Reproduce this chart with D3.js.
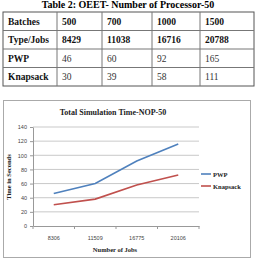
<!DOCTYPE html>
<html>
<head>
<meta charset="utf-8">
<script src="https://cdn.jsdelivr.net/npm/d3@7"></script>
<style>
  body { margin: 0; background: #fff; }
  svg { display: block; font-family: "Liberation Serif", "Times New Roman", serif; }
</style>
</head>
<body>
<script>
// table data
const batches = ["500", "700", "1000", "1500"];
const typeJobs = ["8429", "11038", "16716", "20788"];
const pwpTable = ["46", "60", "92", "165"];
const knapTable = ["30", "39", "58", "111"];

// chart data
const jobs = ["8306", "11509", "16775", "20106"];
const pwp = [46, 60, 92, 116];
const knapsack = [30, 38, 58, 72];
const yTicks = [0, 20, 40, 60, 80, 100, 120, 140];

const W = 256, H = 260;
const svg = d3.select("body").append("svg").attr("width", W).attr("height", H);

// ---- table ----
svg.append("text")
    .attr("x", 128).attr("y", 8)
    .attr("text-anchor", "middle")
    .attr("font-weight", "bold")
    .attr("font-size", 10)
    .text("Table 2: OEET- Number of Processor-50");

const rows = [
    { head: "Batches", cells: batches, bold: true },
    { head: "Type/Jobs", cells: typeJobs, bold: true },
    { head: "PWP", cells: pwpTable, bold: false },
    { head: "Knapsack", cells: knapTable, bold: false }
];
const colX = [3, 57, 102, 152, 200, 254];
const rowY = d3.scaleBand().domain(d3.range(rows.length)).range([12, 86]);

const table = svg.append("g");
table.append("rect")
    .attr("x", colX[0]).attr("y", 12)
    .attr("width", colX[5] - colX[0]).attr("height", 74)
    .attr("fill", "none").attr("stroke", "#555").attr("stroke-width", 1);
rows.forEach((r, i) => {
    if (i > 0) {
        table.append("line")
            .attr("x1", colX[0]).attr("x2", colX[5])
            .attr("y1", rowY(i)).attr("y2", rowY(i))
            .attr("stroke", "#777");
    }
    const ty = rowY(i) + rowY.bandwidth() / 2 + 3.5;
    table.append("text")
        .attr("x", colX[0] + 5).attr("y", ty)
        .attr("font-weight", "bold").attr("font-size", 9.5)
        .attr("fill", "#111")
        .text(r.head);
    r.cells.forEach((c, j) => {
        table.append("text")
            .attr("x", colX[j + 1] + 5).attr("y", ty)
            .attr("font-weight", r.bold ? "bold" : "normal")
            .attr("font-size", 9.5)
            .attr("fill", r.bold ? "#111" : "#333")
            .text(c);
    });
});
colX.slice(1, 5).forEach(x => {
    table.append("line")
        .attr("x1", x).attr("x2", x)
        .attr("y1", 12).attr("y2", 86)
        .attr("stroke", "#777");
});

// ---- chart ----
svg.append("rect")
    .attr("x", 3.5).attr("y", 100.5).attr("width", 247).attr("height", 157)
    .attr("fill", "#fff").attr("stroke", "#aaa");

svg.append("text")
    .attr("x", 113).attr("y", 115)
    .attr("text-anchor", "middle")
    .attr("font-weight", "bold").attr("font-size", 8)
    .attr("fill", "#222")
    .text("Total Simulation  Time-NOP-50");

const x = d3.scaleBand().domain(jobs).range([33, 199]);
const y = d3.scaleLinear().domain([0, 140]).range([226, 127]);

const plot = svg.append("g");
plot.selectAll("line.grid").data(yTicks.slice(1)).enter().append("line")
    .attr("class", "grid")
    .attr("x1", 33).attr("x2", 199)
    .attr("y1", d => y(d)).attr("y2", d => y(d))
    .attr("stroke", "#bbb").attr("stroke-width", 0.8);

const yAxis = plot.append("g")
    .attr("transform", "translate(33,0)")
    .call(d3.axisLeft(y).tickValues(yTicks).tickSize(3).tickSizeOuter(0));
yAxis.select(".domain").attr("stroke", "#999");
yAxis.selectAll(".tick line").attr("stroke", "#999");
yAxis.selectAll("text").attr("font-size", 5.5).attr("fill", "#444")
    .attr("font-family", "Liberation Sans, Arial, sans-serif");

const xAxis = plot.append("g")
    .attr("transform", "translate(0,226)")
    .call(d3.axisBottom(x).tickSize(0).tickPadding(10));
xAxis.select(".domain").attr("stroke", "#999");
xAxis.selectAll("text").attr("font-size", 5.5).attr("fill", "#444")
    .attr("font-family", "Liberation Sans, Arial, sans-serif");
// boundary ticks
plot.selectAll("line.xt").data(d3.range(jobs.length + 1)).enter().append("line")
    .attr("class", "xt")
    .attr("x1", i => 33 + i * x.step()).attr("x2", i => 33 + i * x.step())
    .attr("y1", 226).attr("y2", 229)
    .attr("stroke", "#999");

const line = d3.line().x((d, i) => x(jobs[i]) + x.bandwidth() / 2).y(d => y(d));
const series = [
    { name: "PWP", values: pwp, color: "#4f81bd" },
    { name: "Knapsack", values: knapsack, color: "#c0504d" }
];
series.forEach(s => {
    plot.append("path").datum(s.values)
        .attr("d", line)
        .attr("fill", "none")
        .attr("stroke", s.color)
        .attr("stroke-width", 1.6);
});

// axis titles
svg.append("text")
    .attr("x", 115).attr("y", 252)
    .attr("text-anchor", "middle")
    .attr("font-weight", "bold").attr("font-size", 6.5)
    .attr("fill", "#222")
    .text("Number of Jobs");
svg.append("text")
    .attr("transform", "translate(11,177) rotate(-90)")
    .attr("text-anchor", "middle")
    .attr("font-weight", "bold").attr("font-size", 6.5)
    .attr("fill", "#222")
    .text("Time in Seconds");

// legend
const legend = svg.selectAll("g.legend").data(series).enter().append("g")
    .attr("class", "legend")
    .attr("transform", (d, i) => `translate(201,${174 + i * 12})`);
legend.append("line")
    .attr("x1", 0).attr("x2", 10).attr("y1", 0).attr("y2", 0)
    .attr("stroke", d => d.color).attr("stroke-width", 1.6);
legend.append("text")
    .attr("x", 12).attr("y", 2.5)
    .attr("font-weight", "bold").attr("font-size", 6.5)
    .attr("fill", "#222")
    .text(d => d.name);
</script>
</body>
</html>
